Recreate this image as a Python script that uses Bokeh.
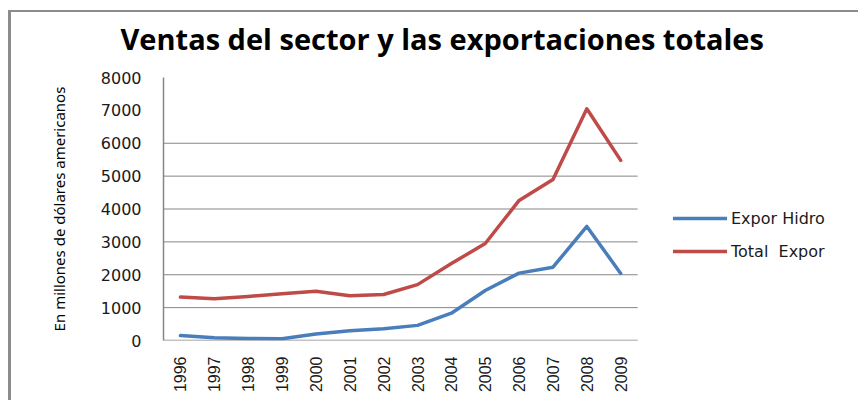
import math
from bokeh.plotting import figure
from bokeh.models import Range1d, FixedTicker, Legend, LegendItem, Title
from bokeh.embed import file_html
from bokeh.resources import INLINE

years = ["1996", "1997", "1998", "1999", "2000", "2001", "2002",
         "2003", "2004", "2005", "2006", "2007", "2008", "2009"]
expor_hidro = [150, 80, 60, 50, 200, 300, 360, 460, 830, 1520, 2050, 2230, 3470, 2040]
total_expor = [1320, 1270, 1340, 1420, 1500, 1360, 1400, 1700, 2340, 2950, 4260, 4900, 7050, 5480]
y_ticks = [0, 1000, 2000, 3000, 4000, 5000, 6000, 7000, 8000]
grid_ticks = [1000, 2000, 3000, 4000, 5000, 6000]
title_text = "Ventas del sector y las exportaciones  totales"

GRAY = "#868686"
n = len(years)
xs = [i + 0.5 for i in range(n)]

p = figure(width=850, height=390, x_range=Range1d(0, 20.61), y_range=Range1d(0, 8000),
           output_backend="svg", toolbar_location=None,
           min_border_left=152, min_border_top=65, min_border_right=0, min_border_bottom=62)
p.styles = {"border-left": "3px solid #8c8c8c", "border-top": "2px solid #8c8c8c",
            "margin-left": "8px", "margin-top": "10px"}

p.title.text = ""
p.title.visible = False

# spacer between plot area and title, then the title itself
spacer = Title(text=" ", text_font_size="2px", standoff=16)
p.add_layout(spacer, "above")
main_title = Title(text=title_text, text_font="Open Sans", text_font_size="29px",
                   text_font_style="bold", text_color="#000000", align="left",
                   offset=-43, standoff=0)
p.add_layout(main_title, "above")

p.outline_line_color = None
p.xgrid.grid_line_color = None
p.ygrid.grid_line_color = None

# horizontal gridlines spanning only the category area
p.segment(x0=[0] * len(grid_ticks), x1=[n] * len(grid_ticks), y0=grid_ticks, y1=grid_ticks,
          line_color=GRAY, line_width=1)
# x axis baseline
p.segment(x0=[0], x1=[n], y0=[0], y1=[0], line_color=GRAY, line_width=1.5)

p.yaxis.ticker = FixedTicker(ticks=y_ticks)
p.yaxis.axis_line_color = GRAY
p.yaxis.axis_line_width = 1.5
p.yaxis.major_tick_line_color = None
p.yaxis.minor_tick_line_color = None
p.yaxis.major_label_text_font = "DejaVu Sans"
p.yaxis.major_label_text_font_size = "16px"
p.yaxis.major_label_text_color = "#1a1a1a"
p.yaxis.major_label_standoff = 16
p.yaxis.axis_label = "En millones de dólares americanos"
p.yaxis.axis_label_text_font = "Noto Sans"
p.yaxis.axis_label_text_font_size = "15px"
p.yaxis.axis_label_text_font_style = "normal"
p.yaxis.axis_label_text_color = "#000000"
p.yaxis.axis_label_standoff = 29

p.xaxis.ticker = FixedTicker(ticks=xs)
p.xaxis.major_label_overrides = {x: y for x, y in zip(xs, years)}
p.xaxis.axis_line_color = None
p.xaxis.major_tick_line_color = None
p.xaxis.minor_tick_line_color = None
p.xaxis.major_label_orientation = math.pi / 2
p.xaxis.major_label_text_font = "Liberation Sans"
p.xaxis.major_label_text_font_size = "16px"
p.xaxis.major_label_text_color = "#1a1a1a"
p.xaxis.major_label_standoff = 10

r1 = p.line(xs, expor_hidro, line_color="#4A7EBB", line_width=3.5, line_join="round", line_cap="round")
r2 = p.line(xs, total_expor, line_color="#BE4B48", line_width=3.5, line_join="round", line_cap="round")

legend = Legend(items=[LegendItem(label="Expor Hidro", renderers=[r1]),
                       LegendItem(label="Total  Expor", renderers=[r2])],
                location=(510, 79), border_line_color=None, background_fill_alpha=0,
                padding=0, margin=0, spacing=13, glyph_width=54, glyph_height=20,
                label_height=20, label_standoff=4,
                label_text_font="DejaVu Sans", label_text_font_size="16px",
                label_text_color="#1a1a1a")
p.add_layout(legend, "center")

open("out.html", "w").write(file_html(p, INLINE))
